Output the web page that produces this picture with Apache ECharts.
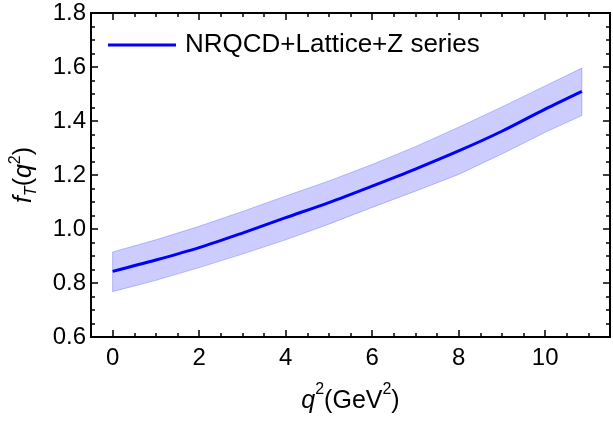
<!DOCTYPE html>
<html lang="en">
<head>
    <meta charset="utf-8">
    <title>f_T(q^2)</title>
    <script src="https://cdn.jsdelivr.net/npm/echarts@6/dist/echarts.min.js"></script>
    <style>
        html, body, #main {
            width: 100%;
            height: 100%;
            margin: 0;
            padding: 0;
            overflow: hidden;
            background-color: #ffffff;
        }
    </style>
</head>
<body>
<div id="main"></div>
<script>
    // values
    var q2 = [0, 1, 2, 3, 4, 5, 6, 7, 8, 9, 10, 10.85];
    var central = [0.843, 0.885, 0.931, 0.985, 1.042, 1.098, 1.159, 1.222, 1.289, 1.362, 1.444, 1.51];
    var upper = [0.915, 0.96, 1.01, 1.065, 1.122, 1.178, 1.239, 1.305, 1.377, 1.452, 1.53, 1.596];
    var lower = [0.768, 0.81, 0.857, 0.907, 0.96, 1.018, 1.08, 1.14, 1.202, 1.278, 1.358, 1.42];

    var xMajorTicks = [0, 2, 4, 6, 8, 10];
    var xMinorTicks = [0.5, 1, 1.5, 2.5, 3, 3.5, 4.5, 5, 5.5, 6.5, 7, 7.5, 8.5, 9, 9.5, 10.5, 11, 11.5];

    var seriesName = 'NRQCD+Lattice+Z series';
    var font = '"Liberation Sans", Arial, sans-serif';

    function pairs(ys) {
        var out = [];
        for (var i = 0; i < q2.length; i++) {
            out.push([q2[i], ys[i]]);
        }
        return out;
    }

    function xAxisDef(pos, ticks, len, withLabels) {
        return {
            type: 'value',
            position: pos,
            min: -0.5,
            max: 11.5,
            axisLine: {show: true, onZero: false, lineStyle: {color: '#000', width: 2}},
            axisTick: {show: true, inside: true, length: len, customValues: ticks,
                lineStyle: {color: '#000', width: 1.5}},
            axisLabel: withLabels ? {
                show: true, customValues: ticks, color: '#000', fontSize: 24,
                fontFamily: font, margin: 9
            } : {show: false},
            splitLine: {show: false}
        };
    }

    function yAxisDef(pos, withLabels) {
        return {
            type: 'value',
            position: pos,
            min: 0.6,
            max: 1.8,
            interval: 0.2,
            axisLine: {show: true, onZero: false, lineStyle: {color: '#000', width: 2}},
            axisTick: {show: true, inside: true, length: 7, lineStyle: {color: '#000', width: 1.5}},
            minorTick: {show: true, splitNumber: 4, length: 4, lineStyle: {color: '#000', width: 1.5}},
            axisLabel: withLabels ? {
                show: true, color: '#000', fontSize: 24, fontFamily: font, margin: 5,
                formatter: function (v) { return v.toFixed(1); }
            } : {show: false},
            splitLine: {show: false}
        };
    }

    var xBottom = xAxisDef('bottom', xMajorTicks, 7, true);
    xBottom.name = '{i|q}{sup|2}{n|(GeV}{sup|2}{n|)}';
    xBottom.nameLocation = 'middle';
    xBottom.nameGap = 45;
    xBottom.nameMoveOverlap = false;
    xBottom.nameTextStyle = {
        color: '#000', fontFamily: font,
        rich: {
            i: {fontSize: 25, fontStyle: 'italic', fontFamily: font, color: '#000', lineHeight: 32, verticalAlign: 'bottom'},
            n: {fontSize: 25, fontFamily: font, color: '#000', lineHeight: 32, verticalAlign: 'bottom'},
            sup: {fontSize: 16, fontFamily: font, color: '#000', lineHeight: 32, verticalAlign: 'top'}
        }
    };

    var yLeft = yAxisDef('left', true);
    yLeft.name = '{i|f}{sub|T}{n|(}{i|q}{sup|2}{n|)}';
    yLeft.nameLocation = 'middle';
    yLeft.nameGap = 51;
    yLeft.nameMoveOverlap = false;
    yLeft.nameTextStyle = {
        color: '#000', fontFamily: font,
        rich: {
            i: {fontSize: 25, fontStyle: 'italic', fontFamily: font, color: '#000', lineHeight: 32, verticalAlign: 'middle'},
            n: {fontSize: 25, fontFamily: font, color: '#000', lineHeight: 32, verticalAlign: 'middle'},
            sub: {fontSize: 16, fontStyle: 'italic', fontFamily: font, color: '#000', lineHeight: 32, verticalAlign: 'bottom'},
            sup: {fontSize: 16, fontFamily: font, color: '#000', lineHeight: 32, verticalAlign: 'top'}
        }
    };

    // error band drawn as one polygon: upper edge forward, lower edge back
    function renderBand(params, api) {
        if (params.dataIndex !== 0) {
            return null;
        }
        var pts = [];
        var i;
        for (i = 0; i < q2.length; i++) {
            pts.push(api.coord([q2[i], upper[i]]));
        }
        for (i = q2.length - 1; i >= 0; i--) {
            pts.push(api.coord([q2[i], lower[i]]));
        }
        return {
            type: 'polygon',
            shape: {points: pts, smooth: 0},
            style: {fill: 'rgba(0,0,255,0.2)', stroke: 'rgba(0,0,255,0.22)', lineWidth: 1}
        };
    }

    var myChart = echarts.init(document.getElementById('main'), null, {renderer: 'canvas'});
    var option = {
        animation: false,
        backgroundColor: '#fff',
        grid: {left: 88, right: 3, top: 13, bottom: 87, containLabel: false},
        legend: {
            data: [{name: seriesName, icon: 'rect'}],
            left: 103,
            top: 27,
            itemWidth: 68,
            itemHeight: 3,
            itemGap: 10,
            textStyle: {color: '#000', fontSize: 26, fontFamily: font, padding: [0, 0, 0, 4]}
        },
        xAxis: [
            xBottom,
            xAxisDef('bottom', xMinorTicks, 4, false),
            xAxisDef('top', xMajorTicks, 7, false),
            xAxisDef('top', xMinorTicks, 4, false)
        ],
        yAxis: [
            yLeft,
            yAxisDef('right', false)
        ],
        series: [
            {
                name: 'band',
                type: 'custom',
                data: pairs(central),
                renderItem: renderBand,
                silent: true,
                z: 1
            },
            {
                name: seriesName,
                type: 'line',
                data: pairs(central),
                symbol: 'none',
                smooth: 0.3,
                color: '#0000ff',
                lineStyle: {color: '#0000ff', width: 3},
                z: 3
            }
        ]
    };
    myChart.setOption(option);
</script>
</body>
</html>
